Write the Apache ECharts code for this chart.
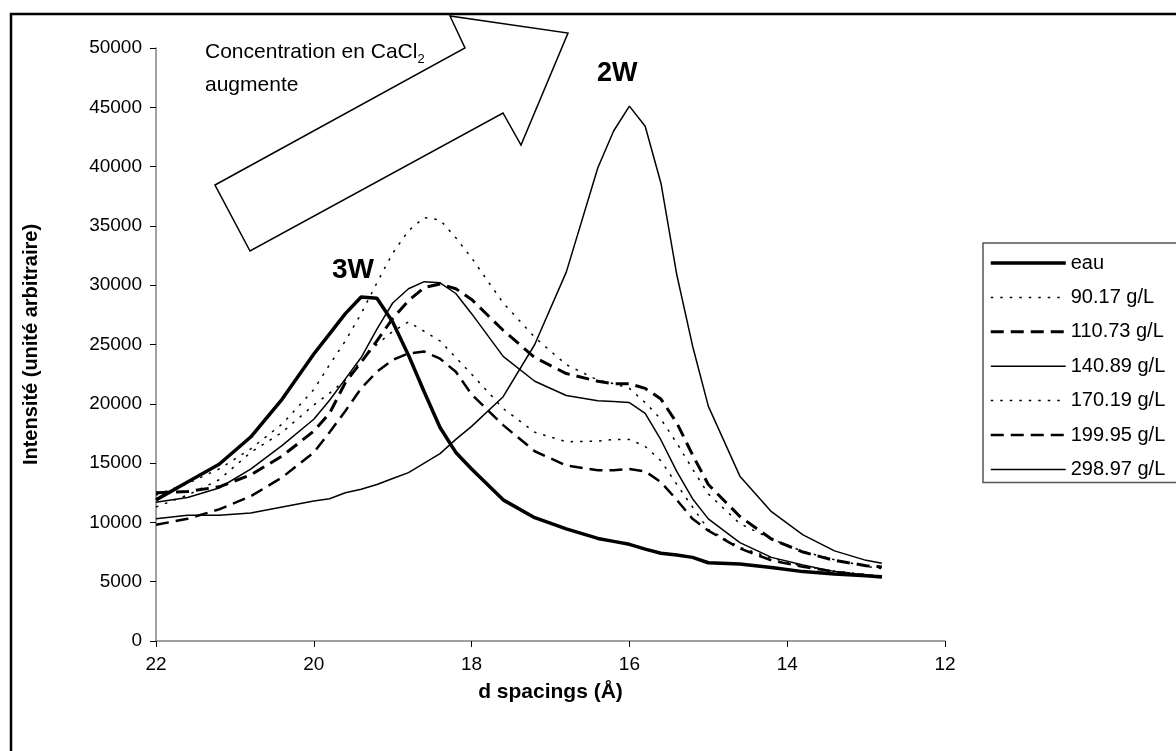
<!DOCTYPE html>
<html>
<head>
<meta charset="utf-8">
<script src="https://cdn.jsdelivr.net/npm/echarts@6/dist/echarts.min.js"></script>
<style>
html,body{margin:0;padding:0;background:#fff;}
#chart{width:1176px;height:751px;}
</style>
</head>
<body>
<div id="chart"></div>
<script>
// d spacing (Å) sample positions
const dSpacing = [22, 21.6, 21.2, 20.8, 20.4, 20.0, 19.8, 19.6, 19.4, 19.2, 19.0, 18.8, 18.6, 18.4, 18.2, 18.0, 17.6, 17.2, 16.8, 16.4, 16.2, 16.0, 15.8, 15.6, 15.4, 15.2, 15.0, 14.6, 14.2, 13.8, 13.4, 13.0, 12.8];

const seriesNames = ['eau', '90.17 g/L', '110.73 g/L', '140.89 g/L', '170.19 g/L', '199.95 g/L', '298.97 g/L'];

const eau    = [11900, 13400, 14900, 17200, 20400, 24200, 25900, 27600, 29000, 28900, 26900, 24100, 21000, 18000, 15900, 14500, 11900, 10400, 9450, 8650, 8400, 8150, 7750, 7400, 7250, 7050, 6600, 6500, 6200, 5850, 5650, 5500, 5400];
const c9017  = [11300, 12300, 13600, 15900, 17600, 19900, 20900, 22000, 23600, 25000, 26100, 26900, 26100, 25300, 23900, 22500, 19600, 17600, 16800, 16850, 17000, 17000, 16400, 15200, 13200, 11300, 9400, 7900, 7000, 6300, 5900, 5600, 5500];
const c11073 = [12500, 12600, 13000, 14000, 15600, 17700, 19200, 21800, 23500, 25300, 27200, 28700, 29800, 30100, 29700, 28800, 26200, 23900, 22550, 21900, 21700, 21700, 21300, 20400, 18400, 15700, 13200, 10500, 8600, 7500, 6800, 6350, 6250];
const c14089 = [11700, 12100, 12900, 14500, 16500, 18700, 20300, 22100, 23900, 26300, 28500, 29700, 30300, 30200, 29300, 27600, 24000, 21900, 20700, 20250, 20200, 20100, 19200, 16950, 14300, 12000, 10300, 8300, 7050, 6400, 5850, 5550, 5400];
const c17019 = [12300, 13300, 14500, 16200, 18300, 21200, 23300, 25300, 27600, 30200, 32700, 34600, 35700, 35500, 34000, 32300, 28500, 25600, 23300, 22000, 21700, 21300, 20100, 18700, 16700, 14500, 12400, 9900, 8600, 7550, 6850, 6300, 6100];
const c19995 = [9800, 10300, 11100, 12200, 13800, 15900, 17600, 19400, 21300, 22700, 23700, 24250, 24400, 23800, 22700, 20800, 18200, 16000, 14800, 14400, 14400, 14500, 14300, 13400, 11900, 10300, 9300, 7800, 6800, 6250, 5850, 5550, 5450];
const c29897 = [10300, 10600, 10600, 10800, 11300, 11800, 12000, 12500, 12800, 13200, 13700, 14200, 15000, 15800, 17000, 18100, 20600, 25000, 31100, 39900, 43000, 45100, 43400, 38600, 30900, 24900, 19800, 13900, 10900, 8950, 7600, 6800, 6550];

const yTicks = {min: 0, max: 50000, interval: 5000};
const xTicks = {min: 12, max: 22, interval: 2};

const values = [eau, c9017, c11073, c14089, c17019, c19995, c29897];
const styles = [
  {width: 3.5, type: 'solid'},
  {width: 1.5, type: [2.5, 7]},
  {width: 3, type: [13, 7]},
  {width: 1.5, type: 'solid'},
  {width: 1.5, type: [2.5, 7]},
  {width: 2.5, type: [13, 7]},
  {width: 1.5, type: 'solid'}
];

const FONT = '"Liberation Sans", Arial, sans-serif';

const chart = echarts.init(document.getElementById('chart'), null, {renderer: 'canvas'});

const series = seriesNames.map((name, k) => ({
  name: name,
  type: 'line',
  data: dSpacing.map((d, i) => [d, values[k][i]]),
  symbol: 'none',
  smooth: false,
  animation: false,
  lineStyle: {color: '#000', width: styles[k].width, type: styles[k].type},
  itemStyle: {color: '#000'},
  z: 3
}));

const option = {
  animation: false,
  backgroundColor: '#fff',
  grid: {left: 156, top: 48, width: 789, height: 593},
  xAxis: {
    type: 'value',
    inverse: true,
    min: xTicks.min, max: xTicks.max, interval: xTicks.interval,
    name: 'd spacings (Å)',
    nameLocation: 'middle',
    nameGap: 41,
    nameTextStyle: {fontFamily: FONT, fontSize: 21, fontWeight: 'bold', color: '#000'},
    axisLine: {show: true, onZero: false, lineStyle: {color: '#808080', width: 1.5}},
    axisTick: {show: true, inside: false, length: 6, lineStyle: {color: '#000'}},
    axisLabel: {fontFamily: FONT, fontSize: 19, color: '#000', margin: 14},
    splitLine: {show: false}
  },
  yAxis: {
    type: 'value',
    min: yTicks.min, max: yTicks.max, interval: yTicks.interval,
    name: 'Intensité (unité arbitraire)',
    nameLocation: 'middle',
    nameGap: 115,
    nameRotate: 90,
    nameTextStyle: {fontFamily: FONT, fontSize: 20, fontWeight: 'bold', color: '#000'},
    axisLine: {show: true, lineStyle: {color: '#808080', width: 1.5}},
    axisTick: {show: true, inside: false, length: 6, lineStyle: {color: '#000'}},
    axisLabel: {fontFamily: FONT, fontSize: 19, color: '#000', margin: 14, formatter: v => String(v)},
    splitLine: {show: false}
  },
  legend: {
    orient: 'vertical',
    left: 983,
    top: 243,
    padding: [10, 30, 3, 6],
    itemGap: 14.4,
    itemWidth: 75,
    itemHeight: 20,
    backgroundColor: '#fff',
    borderColor: '#555',
    borderWidth: 1.5,
    borderRadius: 0,
    itemStyle: {opacity: 0, borderWidth: 0},
    textStyle: {fontFamily: FONT, fontSize: 20, color: '#000', lineHeight: 20},
    data: seriesNames.map((n, k) => ({name: n, lineStyle: {width: styles[k].width, type: styles[k].type, color: '#000', opacity: 1}}))
  },
  graphic: [
    {
      type: 'rect', z: 0, silent: true,
      shape: {x: 11, y: 14, width: 1250, height: 800},
      style: {fill: 'none', stroke: '#000', lineWidth: 2.5}
    },
    {
      type: 'polygon', z: 10, silent: true,
      shape: {points: [[215, 185], [465, 48], [450, 16], [568, 33], [521, 145], [503, 113], [250, 251]]},
      style: {fill: '#fff', stroke: '#000', lineWidth: 1.5}
    },
    {
      type: 'text', z: 11, silent: true,
      left: 205, top: 42,
      style: {
        text: '{n|Concentration en CaCl}{s|2}',
        rich: {
          n: {fontFamily: FONT, fontSize: 21, fill: '#000', lineHeight: 26},
          s: {fontFamily: FONT, fontSize: 13, fill: '#000', lineHeight: 13, verticalAlign: 'bottom'}
        }
      }
    },
    {
      type: 'text', z: 11, silent: true,
      left: 205, top: 75,
      style: {text: 'augmente', fontFamily: FONT, fontSize: 21, fill: '#000'}
    },
    {
      type: 'text', z: 11, silent: true,
      left: 332, top: 256,
      style: {text: '3W', fontFamily: FONT, fontSize: 28, fontWeight: 'bold', fill: '#000'}
    },
    {
      type: 'text', z: 11, silent: true,
      left: 597, top: 60,
      style: {text: '2W', fontFamily: FONT, fontSize: 27, fontWeight: 'bold', fill: '#000'}
    }
  ],
  series: series
};

chart.setOption(option);
</script>
</body>
</html>
